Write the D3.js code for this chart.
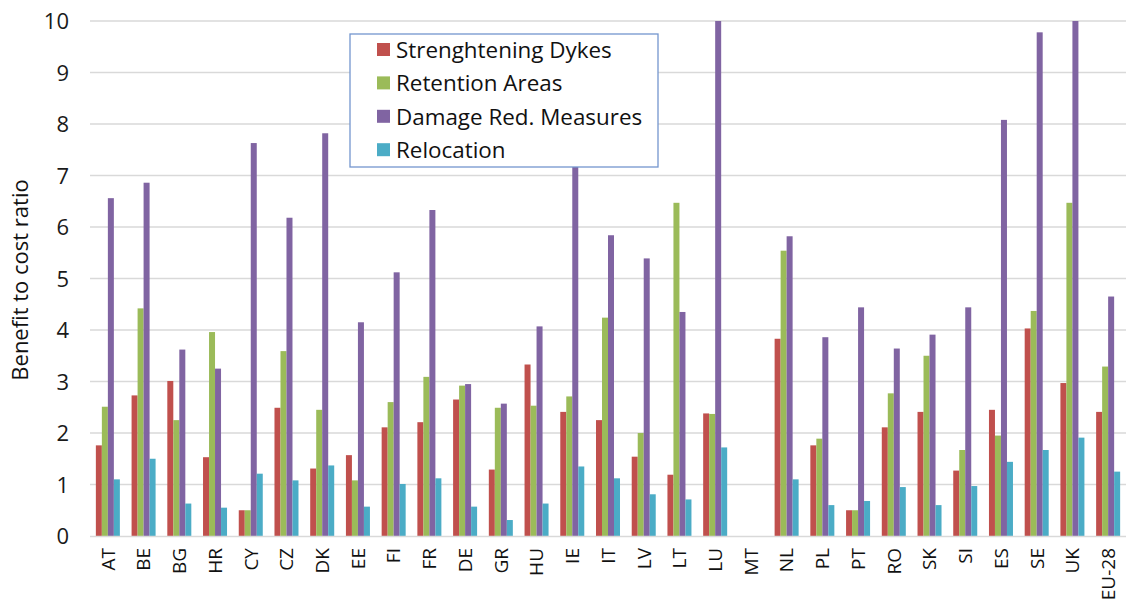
<!DOCTYPE html>
<html><head><meta charset="utf-8">
<script src="https://cdn.jsdelivr.net/npm/d3@7"></script>
<style>
html,body{margin:0;padding:0;background:#fff;}
svg{display:block;font-family:"Open Sans",sans-serif;}
</style></head>
<body><svg id="chart" width="1129" height="607"></svg>
<script>
const categories = ["AT","BE","BG","HR","CY","CZ","DK","EE","FI","FR","DE","GR","HU","IE","IT","LV","LT","LU","MT","NL","PL","PT","RO","SK","SI","ES","SE","UK","EU-28"];
const seriesNames = ["Strenghtening Dykes","Retention Areas","Damage Red. Measures","Relocation"];
const dykes      = [1.76,2.73,3.01,1.53,0.50,2.49,1.31,1.57,2.11,2.21,2.65,1.29,3.33,2.41,2.25,1.54,1.19,2.38,null,3.83,1.76,0.50,2.11,2.41,1.27,2.45,4.03,2.97,2.41];
const retention  = [2.51,4.42,2.25,3.96,0.50,3.59,2.45,1.08,2.60,3.09,2.92,2.49,2.53,2.71,4.24,2.00,6.47,2.37,null,5.54,1.89,0.50,2.77,3.50,1.67,1.95,4.37,6.47,3.29];
const damageRed  = [6.56,6.86,3.62,3.25,7.63,6.18,7.82,4.15,5.12,6.33,2.95,2.57,4.07,8.60,5.84,5.39,4.35,12.0,null,5.82,3.86,4.44,3.64,3.91,4.44,8.08,9.78,12.0,4.65];
const relocation = [1.10,1.50,0.63,0.55,1.21,1.08,1.37,0.57,1.01,1.12,0.57,0.31,0.63,1.35,1.12,0.81,0.71,1.72,null,1.10,0.60,0.68,0.95,0.60,0.97,1.44,1.67,1.91,1.25];
const yTicks = [0,1,2,3,4,5,6,7,8,9,10];
const colors = ["#C0504D","#9BBB59","#8064A2","#4BACC6"];

const seriesValues = [dykes, retention, damageRed, relocation];
const svg = d3.select("#chart");

const x = d3.scaleBand().domain(categories).range([90,1126]).paddingInner(0.328).paddingOuter(0.164);
const xs = d3.scaleBand().domain(d3.range(seriesNames.length)).range([0, x.bandwidth()]).padding(0);
const y = d3.scaleLinear().domain([0,10]).range([536,21]).clamp(true);

// gridlines
svg.append("g").selectAll("line").data(yTicks.filter(t=>t>0)).join("line")
  .attr("x1",90).attr("x2",1126)
  .attr("y1",d=>y(d)).attr("y2",d=>y(d))
  .attr("stroke","#d9d9d9").attr("stroke-width",1.3);

// bars
const groups = svg.append("g").selectAll("g").data(categories).join("g")
  .attr("transform",c=>`translate(${x(c)},0)`);
groups.selectAll("rect")
  .data((c,i)=>seriesValues.map((s,k)=>({k, v:s[i]})).filter(d=>d.v!=null))
  .join("rect")
  .attr("x",d=>xs(d.k)).attr("width",xs.bandwidth())
  .attr("y",d=>y(d.v)).attr("height",d=>y(0)-y(d.v))
  .attr("fill",d=>colors[d.k]);

// x axis line
svg.append("line").attr("x1",90).attr("x2",1126).attr("y1",y(0)+0.5).attr("y2",y(0)+0.5)
  .attr("stroke","#d9d9d9").attr("stroke-width",1.5);

// y axis labels
const yAxis = d3.axisLeft(y).tickValues(yTicks).tickSize(0).tickPadding(0);
const gy = svg.append("g").attr("transform","translate(69,0)").call(yAxis);
gy.select(".domain").remove();
gy.selectAll("text").attr("font-size",22).attr("font-family","Open Sans").attr("fill","#1a1a1a").attr("dy","0.35em");

// x axis labels
const xAxis = d3.axisBottom(x).tickSize(0).tickPadding(0);
const gx = svg.append("g").attr("transform",`translate(0,${y(0)})`).call(xAxis);
gx.select(".domain").remove();
gx.selectAll("text")
  .attr("font-size",19).attr("font-family","Open Sans").attr("fill","#111")
  .attr("text-anchor","end")
  .attr("transform","rotate(-90)")
  .attr("x",-12).attr("y",0).attr("dy","0.36em");

// y title
svg.append("text").attr("transform","translate(20,280) rotate(-90)")
  .attr("text-anchor","middle").attr("dy","0.35em")
  .attr("font-size",22).attr("fill","#111").text("Benefit to cost ratio");

// legend
const lg = svg.append("g");
lg.append("rect").attr("x",350).attr("y",34).attr("width",308).attr("height",133)
  .attr("fill","#fff").attr("stroke","#7396CE").attr("stroke-width",1.3);
const items = lg.selectAll("g.item").data(seriesNames).join("g").attr("class","item")
  .attr("transform",(d,i)=>`translate(0,${50+i*33.4})`);
items.append("rect").attr("x",377).attr("y",-7).attr("width",13).attr("height",13)
  .attr("fill",(d,i)=>colors[i]);
items.append("text").attr("x",396).attr("y",0).attr("dy","0.35em")
  .attr("font-size",22.4).attr("fill","#111").text(d=>d);
</script>
</body></html>
